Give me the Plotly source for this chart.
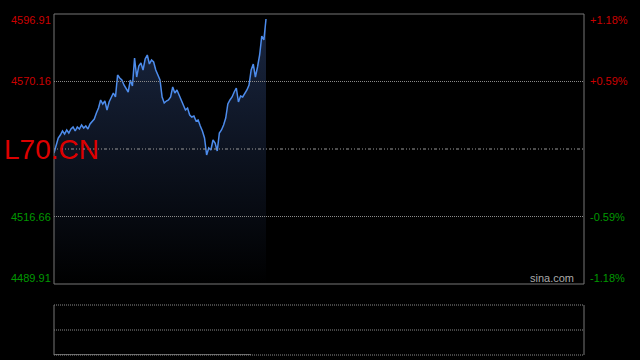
import plotly.graph_objects as go

# ---- data ----
prices = [4541.82, 4544.99, 4547.77, 4548.96, 4550.54, 4549.35, 4550.94, 4549.75, 4551.34, 4552.13,
          4550.54, 4552.13, 4551.34, 4552.92, 4551.73, 4552.52, 4551.34, 4553.32, 4554.51, 4555.30,
          4557.68, 4559.66, 4562.83, 4561.24, 4562.43, 4558.87, 4562.04, 4564.02, 4565.60, 4564.02,
          4572.74, 4571.55, 4570.75, 4568.77, 4567.58, 4566.00, 4570.75, 4568.38, 4579.47, 4571.94,
          4576.30, 4577.49, 4574.72, 4579.08, 4580.66, 4577.09, 4578.68, 4577.89, 4574.72, 4572.74,
          4570.75, 4564.02, 4561.64, 4562.43, 4562.83, 4564.02, 4567.98, 4565.60, 4566.79, 4564.81,
          4562.83, 4561.24, 4558.87, 4559.66, 4556.88, 4556.09, 4556.49, 4554.51, 4554.90, 4552.52,
          4550.54, 4547.77, 4541.03, 4543.81, 4543.01, 4546.98, 4545.79, 4542.62, 4549.75, 4550.94,
          4552.92, 4555.69, 4561.24, 4562.83, 4564.02, 4566.00, 4567.58, 4562.04, 4564.41, 4564.02,
          4565.21, 4566.79, 4568.77, 4574.72, 4577.09, 4571.94, 4575.91, 4580.66, 4588.19, 4586.61,
          4594.93]
total_slots = 250
left_ticks = [4596.91, 4570.16, 4543.41, 4516.66, 4489.91]
right_ticks = ["+1.18%", "+0.59%", "0.00%", "-0.59%", "-1.18%"]
prev_close = 4543.41
volume_len = 94
volumes = [0] * volume_len
symbol = "L70.CN"

x = list(range(len(prices)))
ymin, ymax = left_ticks[-1], left_ticks[0]

fig = go.Figure()
fig.add_trace(go.Scatter(
    x=x, y=prices, mode="lines",
    line=dict(color="#4d8cec", width=1.5),
    fill="tozeroy",
    fillgradient=dict(type="vertical", start=ymin, stop=ymax,
                      colorscale=[[0, "rgba(0,0,0,1)"], [1, "#1a2742"]]),
    hoverinfo="skip", xaxis="x", yaxis="y"))

fig.add_trace(go.Scatter(
    x=list(range(volume_len)), y=volumes, mode="lines",
    line=dict(color="#888888", width=1.5),
    hoverinfo="skip", xaxis="x2", yaxis="y2"))

W, H = 640, 360
x0p, x1p = 54, 584
fig.update_layout(
    width=W, height=H, margin=dict(l=0, r=0, t=0, b=0),
    paper_bgcolor="black", plot_bgcolor="black", showlegend=False,
    xaxis=dict(domain=[x0p / W, x1p / W], range=[0, total_slots], visible=False, fixedrange=True),
    yaxis=dict(domain=[1 - 284 / H, 1 - 14 / H], range=[ymin, ymax], visible=False),
    xaxis2=dict(domain=[x0p / W, x1p / W], range=[0, total_slots], visible=False, anchor="y2"),
    yaxis2=dict(domain=[1 - 355 / H, 1 - 305 / H], range=[0, 2], visible=False, anchor="x2"),
)

shapes = []
# main border
shapes.append(dict(type="rect", xref="x domain", yref="y domain", x0=0, x1=1, y0=0, y1=1,
                   line=dict(color="#777777", width=1)))
for v in [left_ticks[1], left_ticks[3]]:
    shapes.append(dict(type="line", xref="x domain", yref="y", x0=0, x1=1, y0=v, y1=v,
                       line=dict(color="#8a8a8a", width=1, dash="1px,1px")))
shapes.append(dict(type="line", xref="x domain", yref="y", x0=0, x1=1, y0=prev_close, y1=prev_close,
                   line=dict(color="#9a9a9a", width=1, dash="1px,2px,1px,2px,3px,2px")))
# lower panel
for yy in [0, 0.5, 1]:
    shapes.append(dict(type="line", xref="x2 domain", yref="y2 domain", x0=0, x1=1, y0=yy, y1=yy,
                       line=dict(color="#8a8a8a", width=1, dash="1px,1px")))
for xx in [0, 1]:
    shapes.append(dict(type="line", xref="x2 domain", yref="y2 domain", x0=xx, x1=xx, y0=0, y1=1,
                       line=dict(color="#777777", width=1)))
fig.update_layout(shapes=shapes)

font = "Liberation Sans, Arial, sans-serif"
anns = []
for i, (v, r) in enumerate(zip(left_ticks, right_ticks)):
    if i == 2:
        continue
    col = "#cc0000" if v > prev_close else "#009900"
    ys = -6 if i == 0 else (6 if i == 4 else 0)
    anns.append(dict(xref="paper", yref="y", x=53 / W, y=v, text=f"{v:.2f}", xanchor="right",
                     yanchor="middle", yshift=ys, showarrow=False, font=dict(family=font, size=11, color=col)))
    anns.append(dict(xref="paper", yref="y", x=588 / W, y=v, text=r, xanchor="left",
                     yanchor="middle", yshift=ys, showarrow=False, font=dict(family=font, size=11, color=col)))
anns.append(dict(xref="paper", yref="y", x=2 / W, y=prev_close, text=symbol, xanchor="left",
                 yanchor="middle", showarrow=False, font=dict(family=font, size=28, color="#dd0000")))
anns.append(dict(xref="paper", yref="y", x=576 / W, y=ymin, text="sina.com", xanchor="right",
                 yanchor="middle", yshift=6, showarrow=False, font=dict(family=font, size=11, color="#aaaaaa")))
fig.update_layout(annotations=anns)

fig.write_html("out.html")
